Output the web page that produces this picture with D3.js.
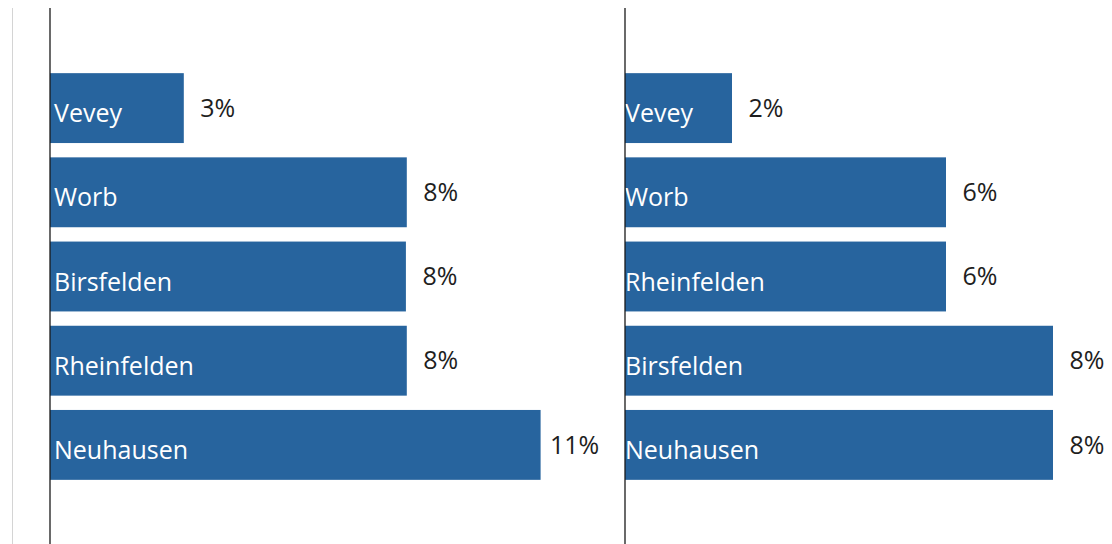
<!DOCTYPE html>
<html>
<head>
<meta charset="utf-8">
<script src="https://cdn.jsdelivr.net/npm/d3@7"></script>
<style>
    html, body { margin: 0; padding: 0; background: #fff; }
    svg { display: block; }
    .cat-label { fill: #fff; font-family: "Open Sans", sans-serif; font-size: 25px; }
    .val-label { fill: #1e1e1e; font-family: "Open Sans", sans-serif; font-size: 25px; }
</style>
</head>
<body>
<div id="chart"></div>
<script>
// Left panel
var leftCategories = ["Vevey", "Worb", "Birsfelden", "Rheinfelden", "Neuhausen"];
var leftValues = [0.03, 0.08, 0.0798, 0.08, 0.11];
var leftLabels = ["3%", "8%", "8%", "8%", "11%"];

// Right panel
var rightCategories = ["Vevey", "Worb", "Rheinfelden", "Birsfelden", "Neuhausen"];
var rightValues = [0.02, 0.06, 0.06, 0.08, 0.08];
var rightLabels = ["2%", "6%", "6%", "8%", "8%"];

var barColor = "#27649e";
var width = 1112, height = 544;

var svg = d3.select("#chart").append("svg")
    .attr("width", width)
    .attr("height", height);

// faint border line on the far left
svg.append("line")
    .attr("x1", 12.5).attr("x2", 12.5)
    .attr("y1", 8).attr("y2", height)
    .attr("stroke", "#d4d4d4")
    .attr("stroke-width", 1);

function drawPanel(categories, values, labels, x0, pxPerUnit, labelPad) {
    var y = d3.scaleBand()
        .domain(categories)
        .range([66, 487])
        .paddingInner(0.17)
        .paddingOuter(0.085);

    var x = d3.scaleLinear()
        .domain([0, 1])
        .range([x0, x0 + pxPerUnit]);

    var g = svg.append("g");

    g.selectAll("rect.bar")
        .data(values)
        .enter().append("rect")
        .attr("class", "bar")
        .attr("x", x(0))
        .attr("y", function(d, i) { return y(categories[i]); })
        .attr("width", function(d) { return x(d) - x(0); })
        .attr("height", y.bandwidth())
        .attr("fill", barColor);

    // category name inside the bar
    g.selectAll("text.cat-label")
        .data(categories)
        .enter().append("text")
        .attr("class", "cat-label")
        .attr("x", x(0) + labelPad)
        .attr("y", function(d) { return y(d) + y.bandwidth() / 2 + 14; })
        .text(function(d) { return d; });

    // value label right of the bar
    g.selectAll("text.val-label")
        .data(values)
        .enter().append("text")
        .attr("class", "val-label")
        .attr("x", function(d) { return x(d) + 34; })
        .attr("y", function(d, i) { return y(categories[i]) + y.bandwidth() / 2; })
        .attr("dy", "0.35em")
        .style("text-anchor", "middle")
        .text(function(d, i) { return labels[i]; });

    // vertical axis line
    g.append("line")
        .attr("x1", x(0)).attr("x2", x(0))
        .attr("y1", 8).attr("y2", height)
        .attr("stroke", "#1a1a1a")
        .attr("stroke-width", 1.3);
}

drawPanel(leftCategories, leftValues, leftLabels, 50, 4460, 4);
drawPanel(rightCategories, rightValues, rightLabels, 625, 5350, 0);
</script>
</body>
</html>
